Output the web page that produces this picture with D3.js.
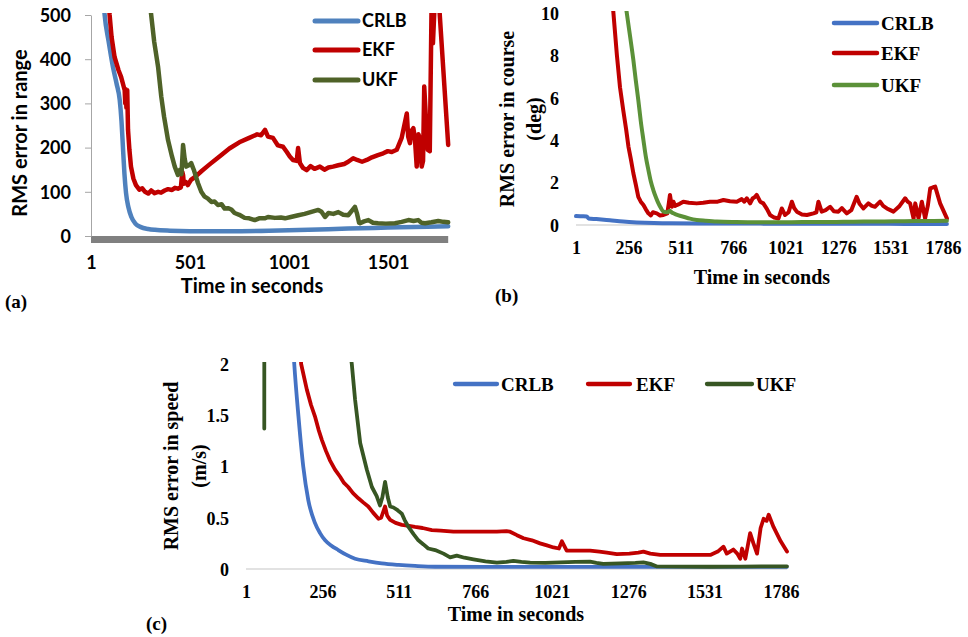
<!DOCTYPE html>
<html>
<head>
<meta charset="utf-8">
<title>RMS error</title>
<script src="https://cdn.jsdelivr.net/npm/d3@7"></script>
<style>
  body { margin: 0; background: #fff; }
  .sans text { font-family: Lato, "Open Sans", sans-serif; font-weight: bold; }
  .serif text { font-family: "Liberation Serif", "DejaVu Serif", serif; font-weight: bold; }
</style>
</head>
<body>
<script>
var seriesNames = ["CRLB", "EKF", "UKF"];

// tick labels
var rangeTicksY = [0, 100, 200, 300, 400, 500];
var rangeTicksX = [1, 501, 1001, 1501];
var courseTicksY = [0, 2, 4, 6, 8, 10];
var speedTicksY = [0, 0.5, 1, 1.5, 2];
var timeTicks = [1, 256, 511, 766, 1021, 1276, 1531, 1786];

// (a) RMS error in range, [time, value]
var rangeCRLB = [[1,950],[50,640],[70,500],[90,440],[112,382],[130,345],[146,308],[155,260],[163,195],[170,140],[178,97],[190,65],[205,43],[225,28],[253,20],[290,16],[324,14],[400,12],[500,11],[700,11],[900,12],[1100,14],[1300,17],[1500,19],[1700,21],[1805,22]];
var rangeEKF = [[1,1200],[80,600],[95,500],[105,450],[120,405],[140,375],[153,360],[165,340],[171,330],[174,300],[176,332],[180,290],[184,330],[188,240],[195,195],[203,157],[215,130],[228,115],[245,105],[260,108],[274,100],[290,96],[305,103],[322,97],[340,100],[355,98],[373,103],[390,106],[410,104],[425,109],[440,107],[455,110],[462,145],[466,138],[470,118],[481,122],[490,115],[506,127],[530,135],[560,147],[600,162],[650,180],[700,198],[750,212],[800,222],[840,230],[860,228],[880,240],[895,225],[920,222],[945,205],[971,202],[990,190],[1005,180],[1021,172],[1040,170],[1047,199],[1056,165],[1072,154],[1090,149],[1110,158],[1130,152],[1157,157],[1180,150],[1200,155],[1223,157],[1250,160],[1280,163],[1300,168],[1325,176],[1345,172],[1370,168],[1394,172],[1420,178],[1450,183],[1477,187],[1500,192],[1520,190],[1545,195],[1570,222],[1596,277],[1603,225],[1612,210],[1620,238],[1629,244],[1637,220],[1646,157],[1655,230],[1662,220],[1671,157],[1678,170],[1684,338],[1692,270],[1702,195],[1712,192],[1721,520],[1728,436],[1740,560],[1748,600],[1805,206]];
var rangeUKF = [[1,3000],[200,1000],[280,600],[305,500],[320,440],[340,382],[356,315],[370,270],[390,217],[410,180],[424,157],[440,138],[450,150],[458,140],[466,206],[474,175],[482,157],[495,160],[507,165],[520,150],[541,120],[558,100],[575,89],[590,85],[609,77],[625,78],[642,70],[660,72],[676,62],[693,63],[710,60],[726,52],[750,48],[777,41],[800,40],[828,36],[850,40],[880,40],[895,43],[930,41],[960,42],[981,40],[1010,43],[1048,47],[1080,50],[1110,54],[1149,59],[1165,55],[1183,43],[1200,52],[1225,50],[1250,54],[1275,48],[1300,47],[1320,58],[1334,66],[1345,50],[1355,30],[1360,29],[1380,33],[1402,36],[1425,30],[1451,29],[1490,28],[1536,29],[1570,32],[1604,36],[1630,34],[1653,36],[1670,30],[1688,29],[1720,31],[1755,34],[1780,32],[1805,31]];

// (b) RMS error in course (deg)
var courseCRLB = [[1,0.42],[30,0.41],[53,0.40],[62,0.31],[100,0.28],[166,0.22],[230,0.16],[296,0.12],[380,0.09],[458,0.08],[600,0.07],[800,0.07],[1000,0.06],[1200,0.06],[1400,0.06],[1600,0.05],[1805,0.05]];
var courseEKF = [[1,40],[150,14],[183,10],[200,8],[215,6.5],[231,5.4],[245,4.5],[256,3.7],[268,3.1],[280,2.44],[292,1.9],[304,1.33],[316,1.1],[329,0.94],[340,0.75],[353,0.55],[365,0.45],[375,0.6],[394,0.55],[410,0.45],[426,0.47],[445,0.55],[452,1.0],[458,1.42],[467,0.86],[475,1.1],[483,0.9],[491,0.94],[505,1.0],[523,1.1],[550,1.05],[588,1.02],[620,1.05],[653,1.1],[690,1.1],[718,1.18],[750,1.12],[783,1.1],[807,1.22],[820,1.1],[832,1.26],[848,1.02],[860,1.25],[872,1.33],[880,1.42],[897,1.1],[912,1.02],[930,0.75],[945,0.47],[965,0.35],[986,0.31],[1002,0.78],[1018,0.47],[1035,0.6],[1051,1.1],[1062,0.8],[1075,0.63],[1100,0.5],[1124,0.47],[1156,0.55],[1170,0.6],[1180,1.1],[1196,0.63],[1215,0.7],[1237,0.86],[1255,0.65],[1277,0.63],[1294,0.8],[1318,0.55],[1340,0.7],[1366,1.33],[1380,1.0],[1399,0.78],[1423,1.02],[1440,0.9],[1455,0.86],[1480,1.1],[1495,0.9],[1513,0.78],[1530,0.7],[1545,0.63],[1575,0.9],[1602,1.26],[1614,1.1],[1626,1.02],[1643,0.31],[1651,1.02],[1667,0.31],[1683,1.1],[1699,0.31],[1712,0.9],[1724,1.73],[1738,1.78],[1748,1.81],[1772,1.02],[1805,0.31]];
var courseUKF = [[1,40],[200,14],[248,10],[264,8.9],[280,7.78],[292,6.8],[304,5.9],[316,4.9],[329,4.0],[341,3.2],[353,2.6],[365,2.05],[377,1.65],[390,1.3],[402,1.02],[414,0.8],[426,0.63],[440,0.6],[450,0.62],[458,0.67],[466,0.6],[475,0.55],[500,0.45],[523,0.39],[555,0.3],[588,0.24],[630,0.2],[686,0.16],[780,0.14],[880,0.13],[1000,0.13],[1100,0.14],[1200,0.14],[1300,0.15],[1400,0.16],[1500,0.17],[1600,0.18],[1700,0.19],[1805,0.2]];

// (c) RMS error in speed (m/s)
var speedCRLB = [[1,40],[100,6],[150,2.6],[162,2.0],[176,1.49],[192,1.0],[209,0.67],[231,0.45],[248,0.35],[265,0.28],[285,0.23],[309,0.185],[335,0.14],[365,0.10],[410,0.075],[454,0.055],[510,0.04],[565,0.03],[632,0.022],[800,0.02],[1100,0.02],[1400,0.02],[1805,0.02]];
var speedEKF = [[1,30],[150,4],[185,2.0],[204,1.75],[218,1.6],[231,1.49],[243,1.36],[254,1.26],[268,1.15],[281,1.06],[298,0.97],[315,0.9],[328,0.84],[342,0.8],[358,0.74],[376,0.69],[392,0.65],[409,0.61],[425,0.55],[443,0.49],[452,0.5],[465,0.61],[472,0.52],[482,0.48],[500,0.45],[521,0.43],[545,0.42],[565,0.41],[590,0.4],[621,0.38],[650,0.375],[693,0.364],[750,0.364],[838,0.364],[870,0.37],[882,0.364],[905,0.33],[927,0.30],[955,0.28],[982,0.25],[1005,0.23],[1027,0.21],[1045,0.2],[1055,0.27],[1071,0.18],[1100,0.18],[1149,0.18],[1180,0.17],[1205,0.16],[1238,0.146],[1280,0.15],[1310,0.16],[1327,0.17],[1350,0.15],[1383,0.137],[1450,0.137],[1550,0.137],[1575,0.17],[1594,0.218],[1605,0.15],[1616,0.17],[1627,0.19],[1640,0.15],[1650,0.10],[1656,0.2],[1667,0.10],[1683,0.35],[1694,0.25],[1706,0.15],[1718,0.40],[1728,0.49],[1738,0.47],[1745,0.53],[1761,0.41],[1785,0.27],[1806,0.17]];
var speedUKF = [[62,1.37],[63,12],[250,4.5],[330,2.5],[354,2.0],[365,1.65],[382,1.23],[404,0.97],[421,0.80],[437,0.71],[448,0.62],[456,0.7],[465,0.85],[474,0.7],[482,0.61],[493,0.6],[504,0.58],[512,0.56],[521,0.54],[530,0.48],[543,0.41],[560,0.34],[576,0.28],[593,0.24],[609,0.20],[632,0.185],[660,0.15],[682,0.114],[704,0.13],[730,0.11],[760,0.095],[800,0.075],[838,0.062],[870,0.07],[893,0.08],[920,0.07],[949,0.062],[1000,0.06],[1050,0.065],[1100,0.07],[1149,0.072],[1170,0.06],[1193,0.05],[1250,0.055],[1300,0.06],[1327,0.065],[1350,0.05],[1372,0.025],[1450,0.024],[1550,0.022],[1650,0.024],[1720,0.026],[1806,0.026]];

var svg = d3.select("body").append("svg")
    .attr("width", 968)
    .attr("height", 637);

// draws one panel
function panel(o) {
    var g = svg.append("g").attr("class", o.font);
    var x = d3.scaleLinear().domain([1, o.xTicks[o.xTicks.length - 1]]).range(o.xRange);
    var y = d3.scaleLinear().domain([0, o.yTicks[o.yTicks.length - 1]]).range(o.yRange);
    var tEnd = d3.max(o.data, function(s) { return d3.max(s, function(d) { return d[0]; }); });

    // baseline
    if (o.bar) {
        g.append("rect")
            .attr("x", x(1)).attr("y", y(0))
            .attr("width", x(tEnd) - x(1)).attr("height", 7)
            .attr("fill", "#808080");
    } else {
        g.append("line")
            .attr("x1", x(1)).attr("x2", x(tEnd))
            .attr("y1", y(0)).attr("y2", y(0))
            .attr("stroke", "#d9d9d9").attr("stroke-width", 1.5);
    }

    var yAxis = d3.axisLeft(y).tickValues(o.yTicks)
        .tickSize(o.yTickSize).tickSizeOuter(0).tickPadding(o.yPad)
        .tickFormat(function(d) { return d; });
    var ya = g.append("g")
        .attr("transform", "translate(" + o.xRange[0] + ",0)")
        .call(yAxis);
    ya.select(".domain").attr("stroke", o.yLine ? "#a6a6a6" : "none");
    ya.selectAll(".tick line").attr("stroke", "#a6a6a6");
    ya.selectAll("text").attr("font-size", o.tickSize).attr("fill", "#000").attr("dy", "0.35em");

    var xAxis = d3.axisBottom(x).tickValues(o.xTicks).tickSize(0).tickFormat(d3.format("d"));
    var xa = g.append("g")
        .attr("transform", "translate(0," + y(0) + ")")
        .call(xAxis);
    xa.select(".domain").remove();
    xa.selectAll("text").attr("font-size", o.tickSize).attr("fill", "#000")
        .attr("y", o.xLabelOff).attr("dy", "0.35em");

    // series
    var clipId = "clip" + o.font + o.xRange[0];
    g.append("clipPath").attr("id", clipId)
        .append("rect")
        .attr("x", x(1) - 5).attr("y", o.yRange[1] - 2)
        .attr("width", x(tEnd) - x(1) + 10).attr("height", o.yRange[0] - o.yRange[1] + 10);

    var sharp = d3.line().x(function(d) { return x(d[0]); }).y(function(d) { return y(d[1]); });
    var smooth = d3.line().curve(d3.curveMonotoneX).x(function(d) { return x(d[0]); }).y(function(d) { return y(d[1]); });
    g.append("g").attr("clip-path", "url(#" + clipId + ")")
        .selectAll("path")
        .data(o.data)
        .enter()
        .append("path")
        .attr("d", function(d, i) { return o.smooth[i] ? smooth(d) : sharp(d); })
        .attr("fill", "none")
        .attr("stroke", function(d, i) { return o.colors[i]; })
        .attr("stroke-width", o.lw)
        .attr("stroke-linejoin", "round")
        .attr("stroke-linecap", "round");

    // legend
    var lg = g.selectAll(".leg").data(seriesNames).enter().append("g").attr("class", "leg");
    lg.append("line")
        .attr("x1", function(d, i) { return o.legend[i][0]; })
        .attr("x2", function(d, i) { return o.legend[i][1]; })
        .attr("y1", function(d, i) { return o.legend[i][2]; })
        .attr("y2", function(d, i) { return o.legend[i][2]; })
        .attr("stroke", function(d, i) { return o.colors[i]; })
        .attr("stroke-width", o.lw + 0.5)
        .attr("stroke-linecap", "round");
    lg.append("text")
        .attr("x", function(d, i) { return o.legend[i][3]; })
        .attr("y", function(d, i) { return o.legend[i][2]; })
        .attr("dy", "0.35em")
        .attr("font-size", o.legendSize)
        .text(function(d) { return d; });

    // titles
    g.append("text")
        .attr("x", o.xTitle[0]).attr("y", o.xTitle[1])
        .attr("dy", "0.35em").attr("text-anchor", "middle")
        .attr("font-size", o.titleSize)
        .text("Time in seconds");
    o.yTitle.forEach(function(t) {
        g.append("text")
            .attr("transform", "translate(" + t[0] + "," + t[1] + ") rotate(-90)")
            .attr("dy", "0.35em").attr("text-anchor", "middle")
            .attr("font-size", o.titleSize)
            .text(t[2]);
    });

    svg.append("text")
        .attr("x", o.tag[0]).attr("y", o.tag[1])
        .attr("dy", "0.35em")
        .attr("font-family", "'Liberation Serif', serif")
        .attr("font-weight", "bold")
        .attr("font-size", 19)
        .text(o.tag[2]);
}

panel({
    font: "sans",
    data: [rangeCRLB, rangeEKF, rangeUKF],
    smooth: [true, false, false],
    colors: ["#4F81BD", "#C00000", "#4F6228"],
    lw: 4.5,
    xTicks: rangeTicksX, xRange: [91, 388],
    yTicks: rangeTicksY, yRange: [236, 15],
    yTickSize: 6, yPad: 14, yLine: true, bar: true,
    xLabelOff: 27, tickSize: 18, legendSize: 18, titleSize: 20,
    legend: [[315, 358, 21, 362], [315, 358, 50, 362], [315, 358, 80, 362]],
    xTitle: [252, 286],
    yTitle: [[20, 133, "RMS error in range"]],
    tag: [5, 301, "(a)"]
});

panel({
    font: "serif",
    data: [courseCRLB, courseEKF, courseUKF],
    smooth: [true, false, true],
    colors: ["#4472C4", "#C00000", "#5B9138"],
    lw: 4,
    xTicks: timeTicks, xRange: [576, 943],
    yTicks: courseTicksY, yRange: [225, 13],
    yTickSize: 0, yPad: 17, yLine: false, bar: false,
    xLabelOff: 23, tickSize: 18, legendSize: 19, titleSize: 20,
    legend: [[834, 877, 23, 881], [834, 877, 53, 881], [834, 877, 85, 881]],
    xTitle: [762, 277],
    yTitle: [[507, 119, "RMS error in course"], [534, 119, "(deg)"]],
    tag: [495, 295, "(b)"]
});

panel({
    font: "serif",
    data: [speedCRLB, speedEKF, speedUKF],
    smooth: [true, false, false],
    colors: ["#4472C4", "#C00000", "#375623"],
    lw: 3.8,
    xTicks: timeTicks, xRange: [246, 781],
    yTicks: speedTicksY, yRange: [569, 364],
    yTickSize: 0, yPad: 17, yLine: false, bar: false,
    xLabelOff: 23, tickSize: 18, legendSize: 19, titleSize: 20,
    legend: [[455, 497, 384, 501], [588, 630, 384, 636], [707, 752, 384, 756]],
    xTitle: [516, 614],
    yTitle: [[171, 466, "RMS error in speed"], [199, 466, "(m/s)"]],
    tag: [146, 623, "(c)"]
});
</script>
</body>
</html>
